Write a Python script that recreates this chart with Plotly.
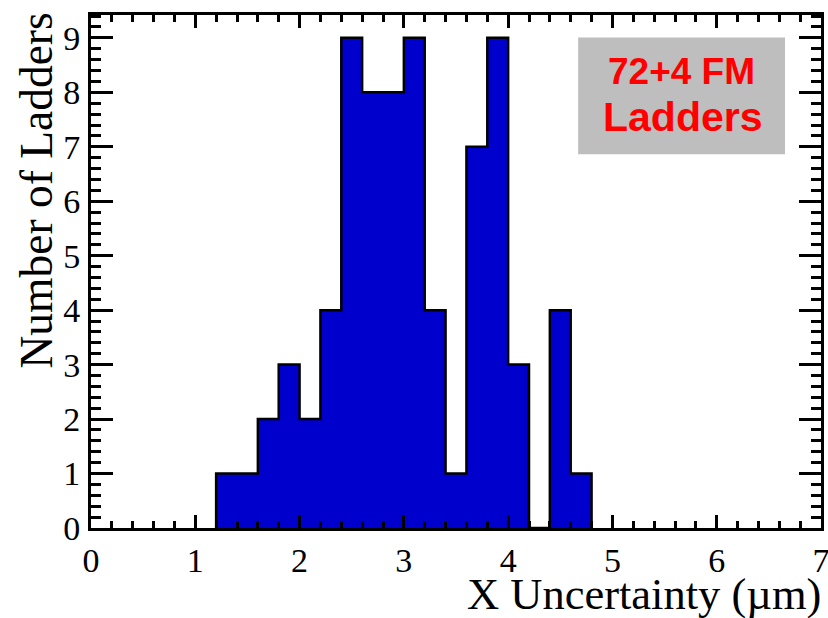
import plotly.graph_objects as go

# Histogram data (bin edges in µm, counts per bin)
bin_edges = [1.2, 1.4, 1.6, 1.8, 2.0, 2.2, 2.4, 2.6, 2.8, 3.0, 3.2, 3.4,
             3.6, 3.8, 4.0, 4.2, 4.4, 4.6, 4.8]
counts = [1, 1, 2, 3, 2, 4, 9, 8, 8, 9, 4, 1, 7, 9, 3, 0, 4, 1]

x_title = "X Uncertainty (µm)"
y_title = "Number of Ladders"
label_lines = ["72+4 FM", "Ladders"]

W, H = 828, 618
L, R, T, B = 90.5, 7, 14.5, 90

# step outline points built from the histogram arrays
xs = [bin_edges[0]] + bin_edges[:-1] + [bin_edges[-1]]
ys = [0] + counts + [0]

fig = go.Figure()
fig.add_trace(go.Scatter(
    x=xs, y=ys, mode="lines", line_shape="hv",
    line=dict(color="black", width=2.5),
    fill="tozeroy", fillcolor="rgb(0,0,204)",
    hoverinfo="skip", showlegend=False,
))

tickfont = dict(family="Liberation Serif", size=34, color="black")
common = dict(
    showline=True, linewidth=3, linecolor="black", mirror="allticks",
    ticks="inside", tickcolor="black", tickwidth=2.5, automargin=False,
    ticklabeloverflow="allow",
    showgrid=False, zeroline=False, tickfont=tickfont, tick0=0, dtick=1,
)

fig.update_layout(
    width=W, height=H,
    margin=dict(l=L, r=R, t=T, b=B, autoexpand=False),
    paper_bgcolor="white", plot_bgcolor="white",
    xaxis=dict(range=[0, 7], ticklen=13,
               minor=dict(dtick=0.2, tick0=0, ticks="inside", ticklen=7,
                          tickwidth=2.5, tickcolor="black", showgrid=False),
               ticklabelstandoff=0, **common),
    yaxis=dict(range=[0, 9.42], ticklen=22,
               minor=dict(dtick=0.2, tick0=0, ticks="inside", ticklen=10,
                          tickwidth=2.5, tickcolor="black", showgrid=False),
               ticklabelstandoff=1, **common),
)

pw = W - L - R
ph = H - T - B

def px_x(p):
    return (p - L) / pw

def px_y(p):
    return (H - B - p) / ph

# axis titles (ROOT-style, right/top aligned)
fig.add_annotation(text=x_title, xref="paper", yref="paper",
                   x=px_x(823), y=px_y(594), xanchor="right", yanchor="middle",
                   showarrow=False,
                   font=dict(family="Liberation Serif", size=44.5, color="black"))
fig.add_annotation(text=y_title, xref="paper", yref="paper", textangle=-90,
                   x=px_x(8), y=px_y(10), xanchor="left", yanchor="top",
                   showarrow=False,
                   font=dict(family="Liberation Serif", size=45.5, color="black"))

# gray label box
fig.add_shape(type="rect", xref="paper", yref="paper",
              x0=px_x(578), x1=px_x(785), y0=px_y(154), y1=px_y(37),
              fillcolor="rgb(190,190,190)", line=dict(width=0))
fig.add_annotation(text=label_lines[0], xref="paper", yref="paper",
                   x=px_x(681), y=px_y(71), xanchor="center", yanchor="middle",
                   showarrow=False,
                   font=dict(family="Liberation Sans", size=37, color="red",
                             weight="bold"))
fig.add_annotation(text=label_lines[1], xref="paper", yref="paper",
                   x=px_x(683), y=px_y(117), xanchor="center", yanchor="middle",
                   showarrow=False,
                   font=dict(family="Liberation Sans", size=41, color="red",
                             weight="bold"))

fig.write_html("out.html")
